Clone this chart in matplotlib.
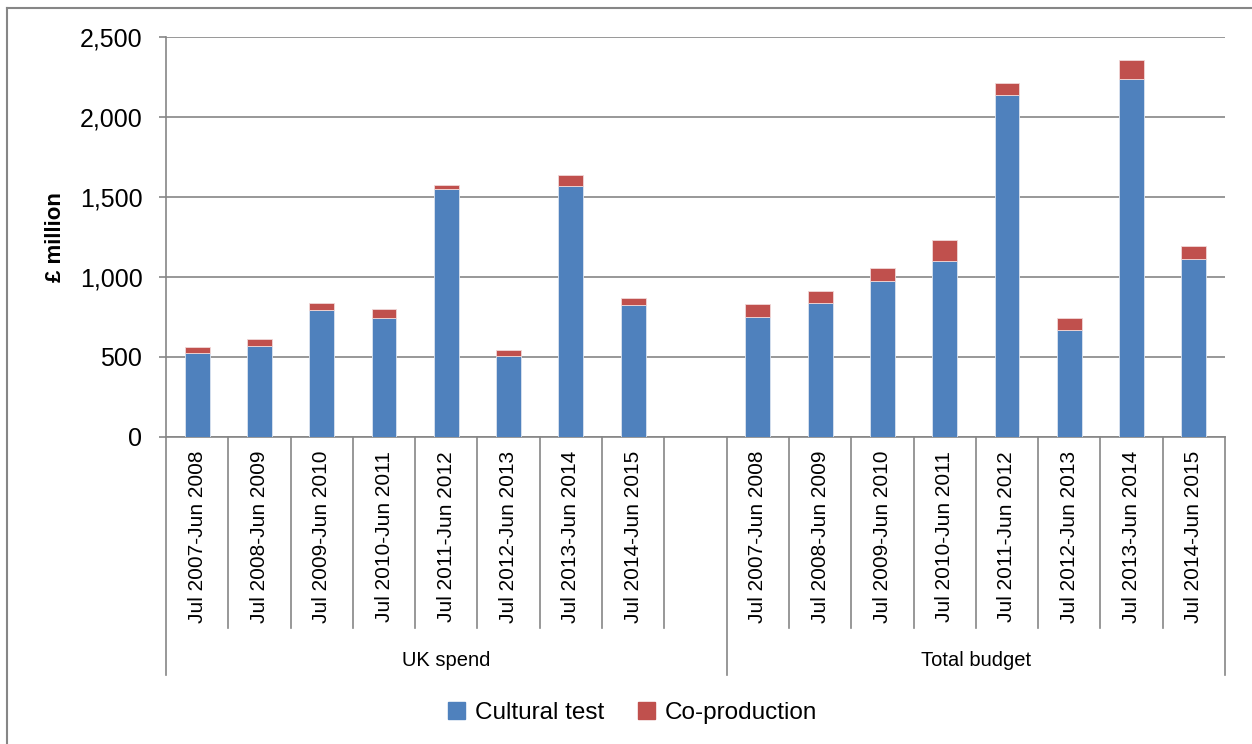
import matplotlib.pyplot as plt
from matplotlib.lines import Line2D
from matplotlib.patches import Patch
from matplotlib.ticker import FuncFormatter

plt.rcParams['font.family'] = ['Liberation Sans', 'DejaVu Sans']

# periods shared by both groups
periods = ['Jul 2007-Jun 2008', 'Jul 2008-Jun 2009', 'Jul 2009-Jun 2010',
           'Jul 2010-Jun 2011', 'Jul 2011-Jun 2012', 'Jul 2012-Jun 2013',
           'Jul 2013-Jun 2014', 'Jul 2014-Jun 2015']
groups = ['UK spend', 'Total budget']

# £ million
uk_cultural = [525, 571, 796, 746, 1552, 504, 1567, 827]
uk_coprod = [36, 44, 40, 54, 21, 38, 69, 42]
total_cultural = [748, 840, 977, 1100, 2136, 671, 2238, 1113]
total_coprod = [85, 75, 77, 133, 79, 73, 121, 83]

blue = '#4F81BD'
red = '#C0504D'
grey = '#868686'

W, H = 1252, 744
fig = plt.figure(figsize=(W / 100, H / 100), dpi=100)

# plot area in pixels
left, right, top, bottom = 166, 1225, 37, 437
ax = fig.add_axes([left / W, 1 - bottom / H, (right - left) / W, (bottom - top) / H])

n = len(periods)
x_uk = list(range(n))
x_tot = [i + n + 1 for i in range(n)]
bw = 0.4

ax.bar(x_uk, uk_cultural, bw, color=blue, edgecolor='#dbe4f0', linewidth=0.6, zorder=3)
ax.bar(x_uk, uk_coprod, bw, bottom=uk_cultural, color=red, edgecolor='#f0d8d8', linewidth=0.6, zorder=3)
ax.bar(x_tot, total_cultural, bw, color=blue, edgecolor='#dbe4f0', linewidth=0.6, zorder=3)
ax.bar(x_tot, total_coprod, bw, bottom=total_cultural, color=red, edgecolor='#f0d8d8', linewidth=0.6, zorder=3)

ax.set_xlim(-0.5, 2 * n + 0.5)
ax.set_ylim(0, 2500)
ax.set_yticks(range(0, 2501, 500))
ax.yaxis.set_major_formatter(FuncFormatter(lambda v, p: f'{int(v):,}'))
ax.yaxis.grid(True, color=grey, linewidth=1.2, zorder=0)
ax.set_axisbelow(True)

for s in ['top', 'right']:
    ax.spines[s].set_visible(False)
for s in ['left', 'bottom']:
    ax.spines[s].set_color(grey)
    ax.spines[s].set_linewidth(1.2)

ax.tick_params(axis='y', length=5, width=1.2, color=grey, labelsize=18, pad=12)
ax.set_xticks(x_uk + x_tot)
ax.set_xticklabels(periods + periods, rotation=90, fontsize=15)
ax.tick_params(axis='x', length=0, pad=10)

ax.set_ylabel('£ million', fontsize=16, fontweight='bold')
ax.yaxis.set_label_coords(-0.094, 0.5)

# category separators and group brackets under the axis
px = 1 / (bottom - top)
trans = ax.get_xaxis_transform()
short_end = -(628 - bottom) * px
long_end = -(675 - bottom) * px
for k in range(2 * n + 2):
    xe = k - 0.5
    end = long_end if k in (0, n + 1, 2 * n + 1) else short_end
    ax.add_line(Line2D([xe, xe], [0, end], transform=trans, color=grey,
                       linewidth=1.2, clip_on=False))

# each group label is centred on its bracket (the first one includes the empty slot)
ax.text(n / 2, -(660 - bottom) * px, groups[0], transform=trans,
        ha='center', va='center', fontsize=14.5)
ax.text(n + 1 + (n - 1) / 2, -(660 - bottom) * px, groups[1], transform=trans,
        ha='center', va='center', fontsize=14.5)

handles = [Patch(color=blue, label='Cultural test'), Patch(color=red, label='Co-production')]
fig.legend(handles=handles, loc='center', bbox_to_anchor=(633 / W, 1 - 713 / H),
           ncol=2, frameon=False, fontsize=17.5, handlelength=0.7, handleheight=0.7,
           handletextpad=0.4, columnspacing=1.4)

# outer chart frame (runs off the right and bottom edges)
fig.add_artist(Line2D([7 / W, 7 / W], [0, 1 - 8 / H], color=grey, linewidth=1.5))
fig.add_artist(Line2D([7 / W, 1], [1 - 8 / H, 1 - 8 / H], color=grey, linewidth=1.5))

fig.savefig('out.png', dpi=100)
